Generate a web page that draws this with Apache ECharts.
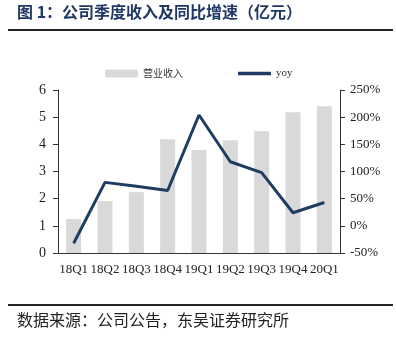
<!DOCTYPE html>
<html><head><meta charset="utf-8">
<script src="https://cdn.jsdelivr.net/npm/echarts@6/dist/echarts.min.js"></script>
<style>html,body{margin:0;padding:0;background:#fff}#c{width:396px;height:345px}</style>
</head><body><div id="c"></div>
<script>
const categories = ['18Q1','18Q2','18Q3','18Q4','19Q1','19Q2','19Q3','19Q4','20Q1'];
const revenue = [1.25, 1.91, 2.24, 4.19, 3.79, 4.15, 4.48, 5.18, 5.40];
const yoy = [-32, 80, 73, 65, 204, 118, 98, 24, 43];
const leftTicks = [0, 6, 1];
const rightTicks = [-50, 250, 50];
const titleText = '图 1：公司季度收入及同比增速（亿元）';
const sourceText = '数据来源：公司公告，东吴证券研究所';

const chart = echarts.init(document.getElementById('c'), null, {renderer: 'canvas'});
const serif = '"Liberation Serif", "Times New Roman", serif';
const cjk = '"Noto Sans CJK SC", sans-serif';
chart.setOption({
  animation: false,
  graphic: [
    {type: 'text', left: 17, top: 4, style: {text: titleText, font: 'bold 16px ' + cjk, fill: '#1f3864'}},
    {type: 'rect', shape: {x: 8, y: 29, width: 385, height: 2}, style: {fill: '#222'}},
    {type: 'rect', shape: {x: 8, y: 304, width: 385, height: 2}, style: {fill: '#222'}},
    {type: 'text', left: 17, top: 312, style: {text: sourceText, font: '16px ' + cjk, fill: '#222'}}
  ],
  legend: {
    top: 63, left: 100, itemGap: 55, itemWidth: 33, itemHeight: 8,
    textStyle: {fontFamily: cjk, fontSize: 10, color: '#333'},
    data: [
      {name: '营业收入', icon: 'roundRect'},
      {name: 'yoy', icon: 'path://M0,0 L10,0 L10,1 L0,1 Z', textStyle: {fontFamily: serif, fontSize: 11}}
    ]
  },
  grid: {left: 58, right: 56, top: 90, bottom: 92},
  xAxis: {
    type: 'category', data: categories,
    axisLine: {lineStyle: {color: '#333', width: 1}},
    axisTick: {inside: true, length: 5, lineStyle: {color: '#333'}},
    axisLabel: {fontFamily: serif, fontSize: 13, color: '#222', margin: 10, interval: 0}
  },
  yAxis: [
    {
      type: 'value', min: leftTicks[0], max: leftTicks[1], interval: leftTicks[2],
      axisLine: {show: true, lineStyle: {color: '#333'}},
      axisTick: {show: true, length: 5, lineStyle: {color: '#333'}},
      splitLine: {show: false},
      axisLabel: {fontFamily: serif, fontSize: 14, color: '#222', margin: 12}
    },
    {
      type: 'value', min: rightTicks[0], max: rightTicks[1], interval: rightTicks[2],
      axisLine: {show: true, lineStyle: {color: '#333'}},
      axisTick: {show: true, length: 5, lineStyle: {color: '#333'}},
      splitLine: {show: false},
      axisLabel: {fontFamily: serif, fontSize: 13, color: '#222', margin: 10, formatter: '{value}%'}
    }
  ],
  series: [
    {name: '营业收入', type: 'bar', data: revenue, barWidth: 15, itemStyle: {color: '#d9d9d9'}},
    {name: 'yoy', type: 'line', yAxisIndex: 1, data: yoy, symbol: 'none',
     lineStyle: {color: '#1f3d63', width: 3}, itemStyle: {color: '#1f3d63'}}
  ]
});
</script></body></html>
